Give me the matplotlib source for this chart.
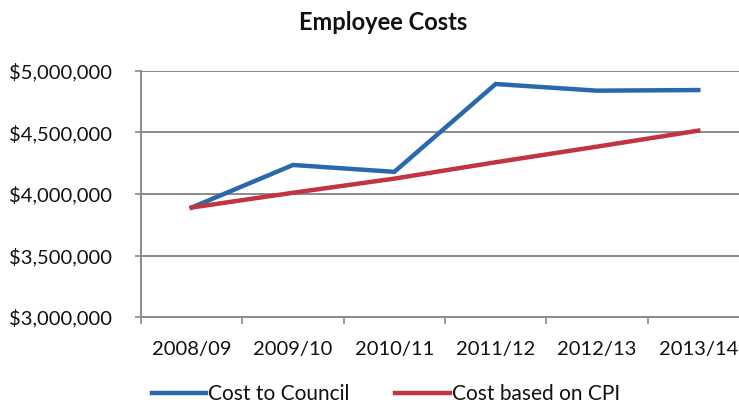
import matplotlib
matplotlib.use("Agg")
import matplotlib.pyplot as plt
from matplotlib.ticker import FuncFormatter, FixedLocator

plt.rcParams['font.family'] = ['Lato', 'DejaVu Sans']

years = ['2008/09', '2009/10', '2010/11', '2011/12', '2012/13', '2013/14']
council_cost = [3890000, 4236000, 4180000, 4894000, 4840000, 4845000]
cpi_cost = [3890000, 4010000, 4125000, 4258000, 4385000, 4515000]

blue = '#2a68ae'
red = '#c23440'
grid_col = '#8a8a8a'

fig = plt.figure(figsize=(7.39, 4.07), dpi=100)
ax = fig.add_axes([0.1908, 0.2211, 0.8227, 0.6045])

x = list(range(len(years)))
ax.plot(x, council_cost, color=blue, lw=3.2, solid_joinstyle='miter', label='Cost to Council', zorder=3)
ax.plot(x, cpi_cost, color=red, lw=3.2, solid_joinstyle='miter', label='Cost based on CPI', zorder=3)

ax.set_xlim(-0.5, len(years) - 0.5)
ax.set_ylim(3000000, 5000000)
ax.set_yticks([3000000, 3500000, 4000000, 4500000, 5000000])
ax.yaxis.set_major_formatter(FuncFormatter(lambda v, p: '${:,.0f}'.format(v)))
ax.set_xticks(x)
ax.set_xticklabels(years)
# small tick marks sit between the categories
ax.xaxis.set_minor_locator(FixedLocator([i - 0.5 for i in range(len(years) + 1)]))

ax.grid(axis='y', color=grid_col, lw=1.4, zorder=1)
for s in ['top', 'right']:
    ax.spines[s].set_visible(False)
for s in ['left', 'bottom']:
    ax.spines[s].set_color(grid_col)
    ax.spines[s].set_linewidth(1.4)

ax.tick_params(axis='y', length=4, color=grid_col, width=1.2, pad=17, labelsize=14.5, labelcolor='#111111')
ax.tick_params(axis='x', which='major', length=0, pad=17, labelsize=14.5, labelcolor='#111111')
ax.tick_params(axis='x', which='minor', length=5, color=grid_col, width=1.2)

fig.text(0.518, 1 - 23 / 407, 'Employee Costs', ha='center', va='center',
         fontsize=17, fontweight='bold', color='#111111')

fig.legend(loc='center', bbox_to_anchor=(0.522, 1 - 394 / 407), ncol=2, frameon=False,
           fontsize=15, handlelength=2.6, handletextpad=0.1, columnspacing=2.2,
           labelcolor='#111111')

fig.savefig('out.png', dpi=100)
